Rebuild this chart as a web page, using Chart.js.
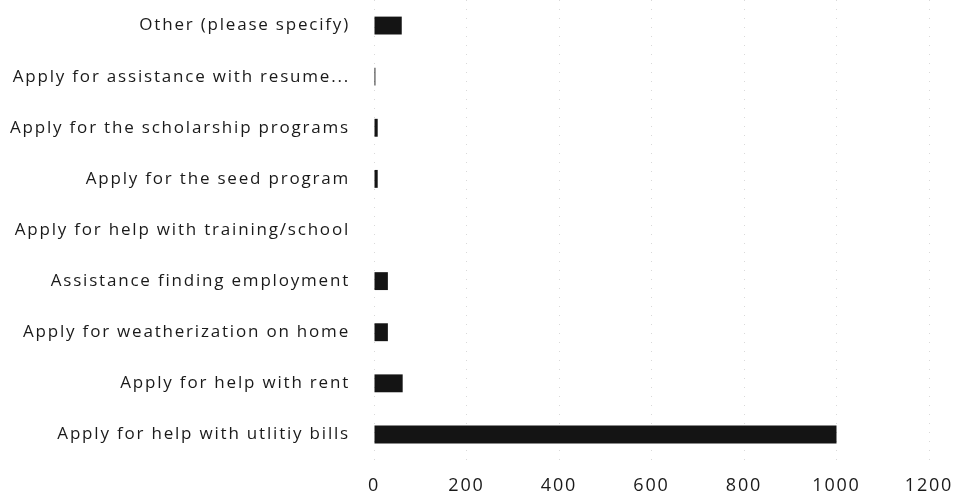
<!DOCTYPE html>
<html>
<head>
<meta charset="utf-8">
<script src="https://cdn.jsdelivr.net/npm/chart.js@4/dist/chart.umd.min.js"></script>
<style>
  html, body { margin: 0; padding: 0; background: #fff; }
  #wrap { width: 955px; height: 502px; }
</style>
</head>
<body>
<div id="wrap"><canvas id="servicesChart"></canvas></div>
<script>
// Requested services, listed top to bottom
const categories = [
    'Other (please specify)',
    'Apply for assistance with resume...',
    'Apply for the scholarship programs',
    'Apply for the seed program',
    'Apply for help with training/school',
    'Assistance finding employment',
    'Apply for weatherization on home',
    'Apply for help with rent',
    'Apply for help with utlitiy bills'
];

// Number of responses per service
const responses = [60, 3, 8, 8, 0, 30, 30, 62, 1000];

// Value axis
const xMin = 0;
const xMax = 1200;
const xStep = 200;

// wider letter spacing for all axis text
const spacingPlugin = {
    id: 'letterSpacing',
    beforeInit(chart) { chart.ctx.letterSpacing = '1.8px'; },
    beforeLayout(chart) { chart.ctx.letterSpacing = '1.8px'; }
};

// fixed axis sizes, no extra edge padding around the plot
function fitValueAxis(scale) {
    scale.height = 37;
    scale.paddingLeft = 0;
    scale.paddingRight = 0;
}

function fitCategoryAxis(scale) {
    scale.width = 374;
    scale.paddingTop = 0;
    scale.paddingBottom = 0;
}

const ctx = document.getElementById('servicesChart').getContext('2d');

const servicesChart = new Chart(ctx, {
    type: 'bar',
    data: {
        labels: categories,
        datasets: [{
            data: responses,
            backgroundColor: '#141414',
            borderWidth: 0,
            categoryPercentage: 1,
            barPercentage: 0.35
        }]
    },
    options: {
        indexAxis: 'y',
        responsive: true,
        maintainAspectRatio: false,
        animation: false,
        layout: {
            padding: { top: 0, right: 26, bottom: 5, left: 0 }
        },
        plugins: {
            legend: { display: false },
            tooltip: { enabled: false }
        },
        scales: {
            x: {
                min: xMin,
                max: xMax,
                afterFit: fitValueAxis,
                ticks: {
                    stepSize: xStep,
                    color: '#1a1a1a',
                    padding: 15,
                    font: { family: 'Open Sans', size: 18 },
                    callback: value => String(value)
                },
                border: { display: false, dash: [1, 8] },
                grid: {
                    color: '#d9d9d9',
                    lineWidth: 1,
                    drawTicks: false
                }
            },
            y: {
                afterFit: fitCategoryAxis,
                ticks: {
                    color: '#1a1a1a',
                    padding: 24,
                    font: { family: 'Open Sans', size: 17 }
                },
                border: { display: false },
                grid: { display: false, drawTicks: false }
            }
        }
    },
    plugins: [spacingPlugin]
});
</script>
</body>
</html>
